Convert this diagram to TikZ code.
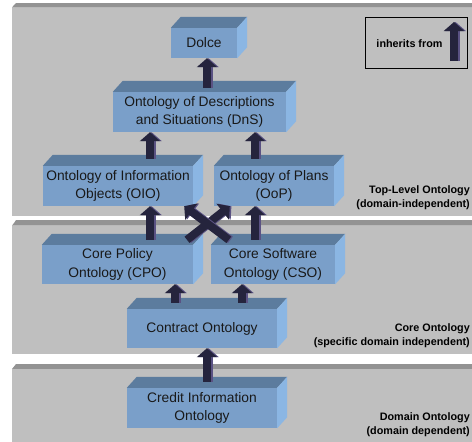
\documentclass[tikz,border=0pt]{standalone}
\usepackage{fontspec}
\setmainfont{Liberation Sans}
\usetikzlibrary{arrows.meta,calc}
\definecolor{panelbody}{HTML}{BFBFBF}
\definecolor{panelstrip}{HTML}{939393}
\definecolor{boxfront}{HTML}{7A9FC9}
\definecolor{boxtop}{HTML}{5C7C9E}
\definecolor{boxside}{HTML}{8BB6E3}
\definecolor{arrdark}{HTML}{25243D}
\definecolor{arrlight}{HTML}{5A5283}
\tikzset{
  onto/.style={rectangle, fill=boxfront, inner sep=0pt, align=center,
    text=black!90, font=\fontsize{13.8}{18.5}\selectfont},
  blk/.style={line width=8pt, draw=arrdark,
    -{Triangle[width=20pt,length=9pt]},
    preaction={draw=arrlight, line width=8pt, -{Triangle[width=20pt,length=9pt]},
      transform canvas={xshift=1.6pt}}},
  lbl/.style={font=\bfseries\fontsize{10.8}{14}\selectfont, align=right, anchor=east, inner sep=0pt}
}
\newcommand\cubefaces[1]{%
  \fill[boxtop] (#1.north west) -- (#1.north east) -- ($(#1.north east)+(10,-11)$) -- ($(#1.north west)+(10,-11)$) -- cycle;
  \fill[boxside] (#1.north east) -- ($(#1.north east)+(10,-11)$) -- ($(#1.south east)+(10,-11)$) -- (#1.south east) -- cycle;}
\begin{document}
\begin{tikzpicture}[x=1pt,y=-1pt]
\useasboundingbox (0,0) rectangle (472,442);
% panels
\fill[panelstrip] (12,7.5) -- (14,5) -- (16,3) -- (472,3) -- (472,7.5) -- cycle;
\fill[panelbody] (12,7.5) rectangle (472,216);
\fill[panelstrip] (12,225.5) -- (14,223) -- (16,220) -- (472,220) -- (472,225.5) -- cycle;
\fill[panelbody] (12,225.5) rectangle (472,354);
\fill[panelstrip] (12,369) -- (14,366.5) -- (16,364) -- (472,364) -- (472,369) -- cycle;
\fill[panelbody] (12,369) rectangle (472,442);
% boxes
\node[onto, minimum width=66pt, minimum height=30pt] (dolce) at (204,43) {Dolce};
\node[onto, minimum width=173pt, minimum height=40pt] (dns) at (199.5,112) {Ontology of Descriptions\\and Situations (DnS)};
\node[onto, minimum width=150pt, minimum height=40pt] (oio) at (118,186) {Ontology of Information\\Objects (OIO)};
\node[onto, minimum width=120pt, minimum height=40pt] (oop) at (274,186) {Ontology of Plans\\(OoP)};
\node[onto, minimum width=151pt, minimum height=39pt] (cpo) at (117.5,264.5) {Core Policy\\Ontology (CPO)};
\node[onto, minimum width=124pt, minimum height=39pt] (cso) at (273,264.5) {Core Software\\Ontology (CSO)};
\node[onto, minimum width=150pt, minimum height=39pt] (contract) at (202,328.5) {Contract Ontology};
\node[onto, minimum width=150pt, minimum height=40pt] (credit) at (202,408) {Credit Information\\Ontology};
\cubefaces{dolce}\cubefaces{dns}\cubefaces{oio}\cubefaces{oop}
\cubefaces{cpo}\cubefaces{cso}\cubefaces{contract}\cubefaces{credit}
% arrow tails
\coordinate (t1) at ($(dns.north)+(7.5,-4)$);
\coordinate (t2) at ($(oio.north)+(32,-7)$);
\coordinate (t3) at ($(oop.north)+(-19,-7)$);
\coordinate (t4) at ($(cpo.north)+(32.5,-5)$);
\coordinate (t5) at ($(cso.north)+(-18,-5)$);
\coordinate (t6) at ($(cpo.north)+(69.5,-5)$);
\coordinate (h6) at ($(oop.south west)+(16,0)$);
\coordinate (t7) at ($(cso.north west)+(18,-5)$);
\coordinate (h7) at ($(oio.south east)+(-9,0)$);
\coordinate (t8) at ($(contract.north)+(-27,-6)$);
\coordinate (t9) at ($(contract.north)+(40,-6)$);
\coordinate (t10) at ($(credit.north)+(5,-6)$);
% arrows
\draw[blk] (t1) -- (t1 |- dolce.south);
\draw[blk] (t2) -- (t2 |- dns.south);
\draw[blk] (t3) -- (t3 |- dns.south);
\draw[blk] (t4) -- (t4 |- oio.south);
\draw[blk] (t5) -- (t5 |- oop.south);
\draw[blk] (t6) -- (h6);
\draw[blk] (t7) -- (h7);
\draw[blk] (t8) -- (t8 |- cpo.south);
\draw[blk] (t9) -- (t9 |- cso.south);
\draw[blk] (t10) -- (t10 |- contract.south);
% legend
\node[draw=black, line width=0.8pt, minimum width=102pt, minimum height=51pt, inner sep=0pt] (legend) at (416,42.5) {};
\node[font=\bfseries\fontsize{10.8}{13}\selectfont, inner sep=0pt] (legtext) at (409.5,44) {inherits from};
\coordinate (lt) at (454,61);
\coordinate (lh) at (454,22);
\draw[blk] (lt) -- (lh);
% layer labels
\node[lbl] (l1) at (470,198) {Top-Level Ontology\\(domain-independent)};
\node[lbl] (l2) at (470,336) {Core Ontology\\(specific domain independent)};
\node[lbl] (l3) at (470,424.5) {Domain Ontology\\(domain dependent)};
\end{tikzpicture}
\end{document}
